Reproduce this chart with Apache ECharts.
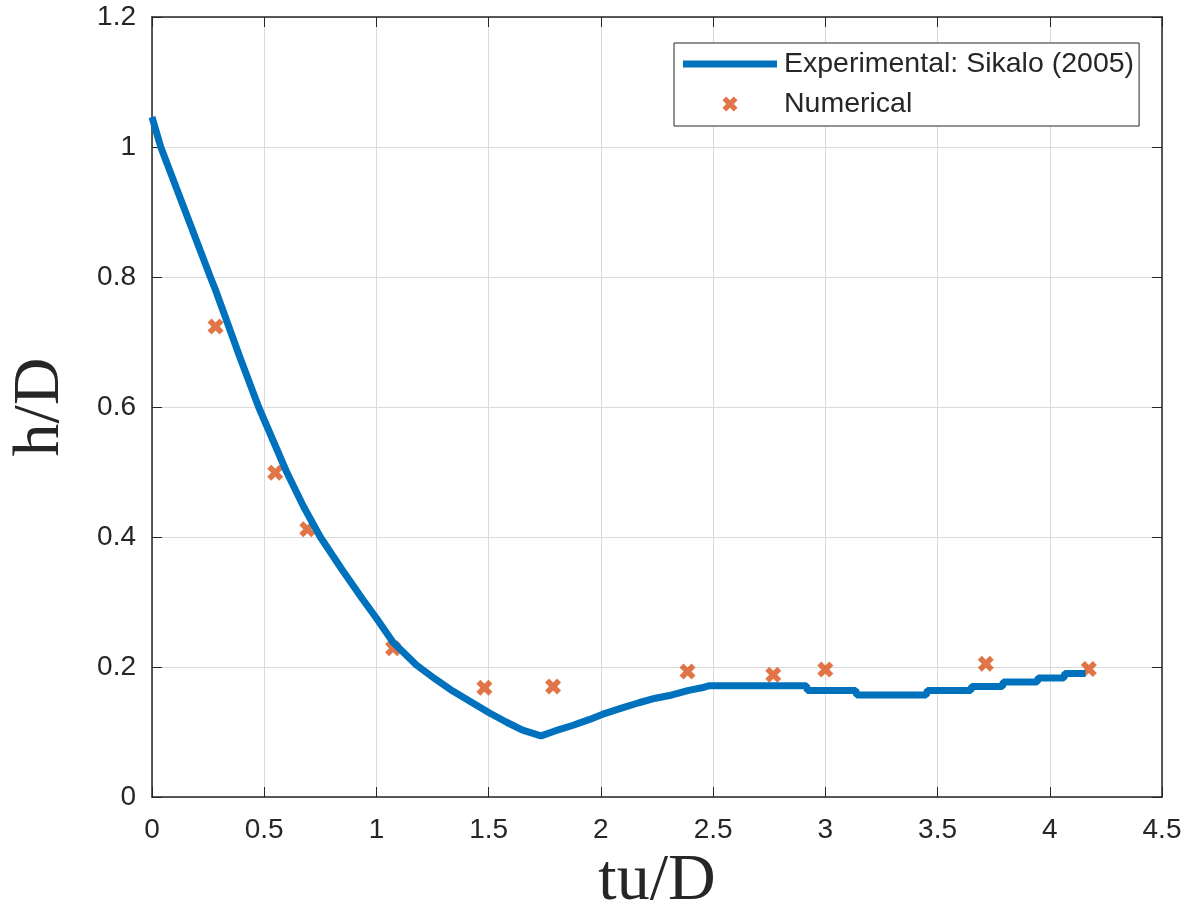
<!DOCTYPE html>
<html>
<head>
<meta charset="utf-8">
<script src="https://cdn.jsdelivr.net/npm/echarts@6/dist/echarts.min.js"></script>
<style>
  html, body { margin: 0; padding: 0; background: #fff; }
  #chart { width: 1193px; height: 920px; }
</style>
</head>
<body>
<div id="chart"></div>
<script>
// experimental curve (Sikalo 2005)
var expX = [0.0, 0.039, 0.26, 0.283, 0.39, 0.475, 0.60, 0.675, 0.75, 0.85, 0.937, 1.0, 1.074, 1.178, 1.26, 1.34, 1.50, 1.58, 1.651, 1.733, 1.799, 1.873, 1.947, 2.006, 2.095, 2.169, 2.243, 2.317, 2.391, 2.45, 2.48, 2.916, 2.92, 3.135, 3.14, 3.449, 3.455, 3.648, 3.652, 3.789, 3.793, 3.944, 3.948, 4.063, 4.067, 4.159];
var expY = [1.046, 1.0, 0.800, 0.780, 0.678, 0.60, 0.50, 0.447, 0.40, 0.348, 0.305, 0.275, 0.238, 0.203, 0.182, 0.163, 0.130, 0.115, 0.103, 0.094, 0.102, 0.110, 0.119, 0.127, 0.137, 0.145, 0.152, 0.157, 0.164, 0.168, 0.171, 0.171, 0.164, 0.164, 0.157, 0.157, 0.164, 0.164, 0.170, 0.170, 0.177, 0.177, 0.183, 0.183, 0.190, 0.190];

// numerical points
var numX = [0.283, 0.549, 0.692, 1.074, 1.481, 1.787, 2.386, 2.768, 3.0, 3.715, 4.174];
var numY = [0.724, 0.499, 0.412, 0.229, 0.168, 0.170, 0.193, 0.188, 0.196, 0.205, 0.197];

var seriesNames = ['Experimental: Sikalo (2005)', 'Numerical'];

function zip(xs, ys) {
    var out = [];
    for (var i = 0; i < xs.length; i++) out.push([xs[i], ys[i]]);
    return out;
}

var crossPath = 'path://M0,3 L3,0 L6,3 L9,0 L12,3 L9,6 L12,9 L9,12 L6,9 L3,12 L0,9 L3,6 Z';
var barPath = 'path://M0,0 H94 V7 H0 Z';
var axisColor = '#262626';

var chart = echarts.init(document.getElementById('chart'));
chart.setOption({
    backgroundColor: '#fff',
    animation: false,
    grid: { left: 148, right: 31, top: 17, bottom: 123 },
    legend: {
        left: 674,
        top: 43,
        orient: 'vertical',
        backgroundColor: '#fff',
        borderColor: axisColor,
        borderWidth: 1,
        borderRadius: 0,
        padding: [6, 5, 7, 9],
        itemWidth: 94,
        itemHeight: 15,
        itemGap: 10,
        textStyle: { fontFamily: 'Liberation Sans', fontSize: 28.5, color: axisColor, lineHeight: 30, padding: [0, 0, 0, 2] },
        data: [
            { name: seriesNames[0], icon: barPath },
            { name: seriesNames[1], icon: crossPath }
        ]
    },
    xAxis: [{
        type: 'value',
        min: 0, max: 4.5, interval: 0.5,
        name: 'tu/D',
        nameLocation: 'middle',
        nameGap: 40,
        nameTextStyle: { fontFamily: 'Liberation Serif', fontSize: 66, color: axisColor },
        axisLine: { show: true, onZero: false, lineStyle: { color: axisColor, width: 1.5 } },
        axisTick: { show: true, inside: true, length: 10, lineStyle: { color: axisColor } },
        axisLabel: { fontFamily: 'Liberation Sans', fontSize: 28, color: axisColor, margin: 19 },
        splitLine: { show: true, lineStyle: { color: '#dadada', width: 1 } }
    }, {
        type: 'value', position: 'top',
        min: 0, max: 4.5, interval: 0.5,
        axisLine: { show: true, onZero: false, lineStyle: { color: axisColor, width: 1.5 } },
        axisTick: { show: true, inside: true, length: 10, lineStyle: { color: axisColor } },
        axisLabel: { show: false },
        splitLine: { show: false }
    }],
    yAxis: [{
        type: 'value',
        min: 0, max: 1.2, interval: 0.2,
        name: 'h/D',
        nameLocation: 'middle',
        nameGap: 78,
        nameRotate: 90,
        nameTextStyle: { fontFamily: 'Liberation Serif', fontSize: 66, color: axisColor },
        axisLine: { show: true, onZero: false, lineStyle: { color: axisColor, width: 1.5 } },
        axisTick: { show: true, inside: true, length: 10, lineStyle: { color: axisColor } },
        axisLabel: { fontFamily: 'Liberation Sans', fontSize: 28, color: axisColor, margin: 16 },
        splitLine: { show: true, lineStyle: { color: '#dadada', width: 1 } }
    }, {
        type: 'value', position: 'right',
        min: 0, max: 1.2, interval: 0.2,
        axisLine: { show: true, onZero: false, lineStyle: { color: axisColor, width: 1.5 } },
        axisTick: { show: true, inside: true, length: 10, lineStyle: { color: axisColor } },
        axisLabel: { show: false },
        splitLine: { show: false }
    }],
    series: [
        {
            name: seriesNames[0],
            type: 'line',
            symbol: 'none',
            lineStyle: { color: '#0072BD', width: 7 },
            itemStyle: { color: '#0072BD' },
            data: zip(expX, expY)
        },
        {
            name: seriesNames[1],
            type: 'scatter',
            symbol: crossPath,
            symbolSize: 16,
            itemStyle: { color: '#D95319' },
            data: zip(numX, numY)
        }
    ]
});
</script>
</body>
</html>
